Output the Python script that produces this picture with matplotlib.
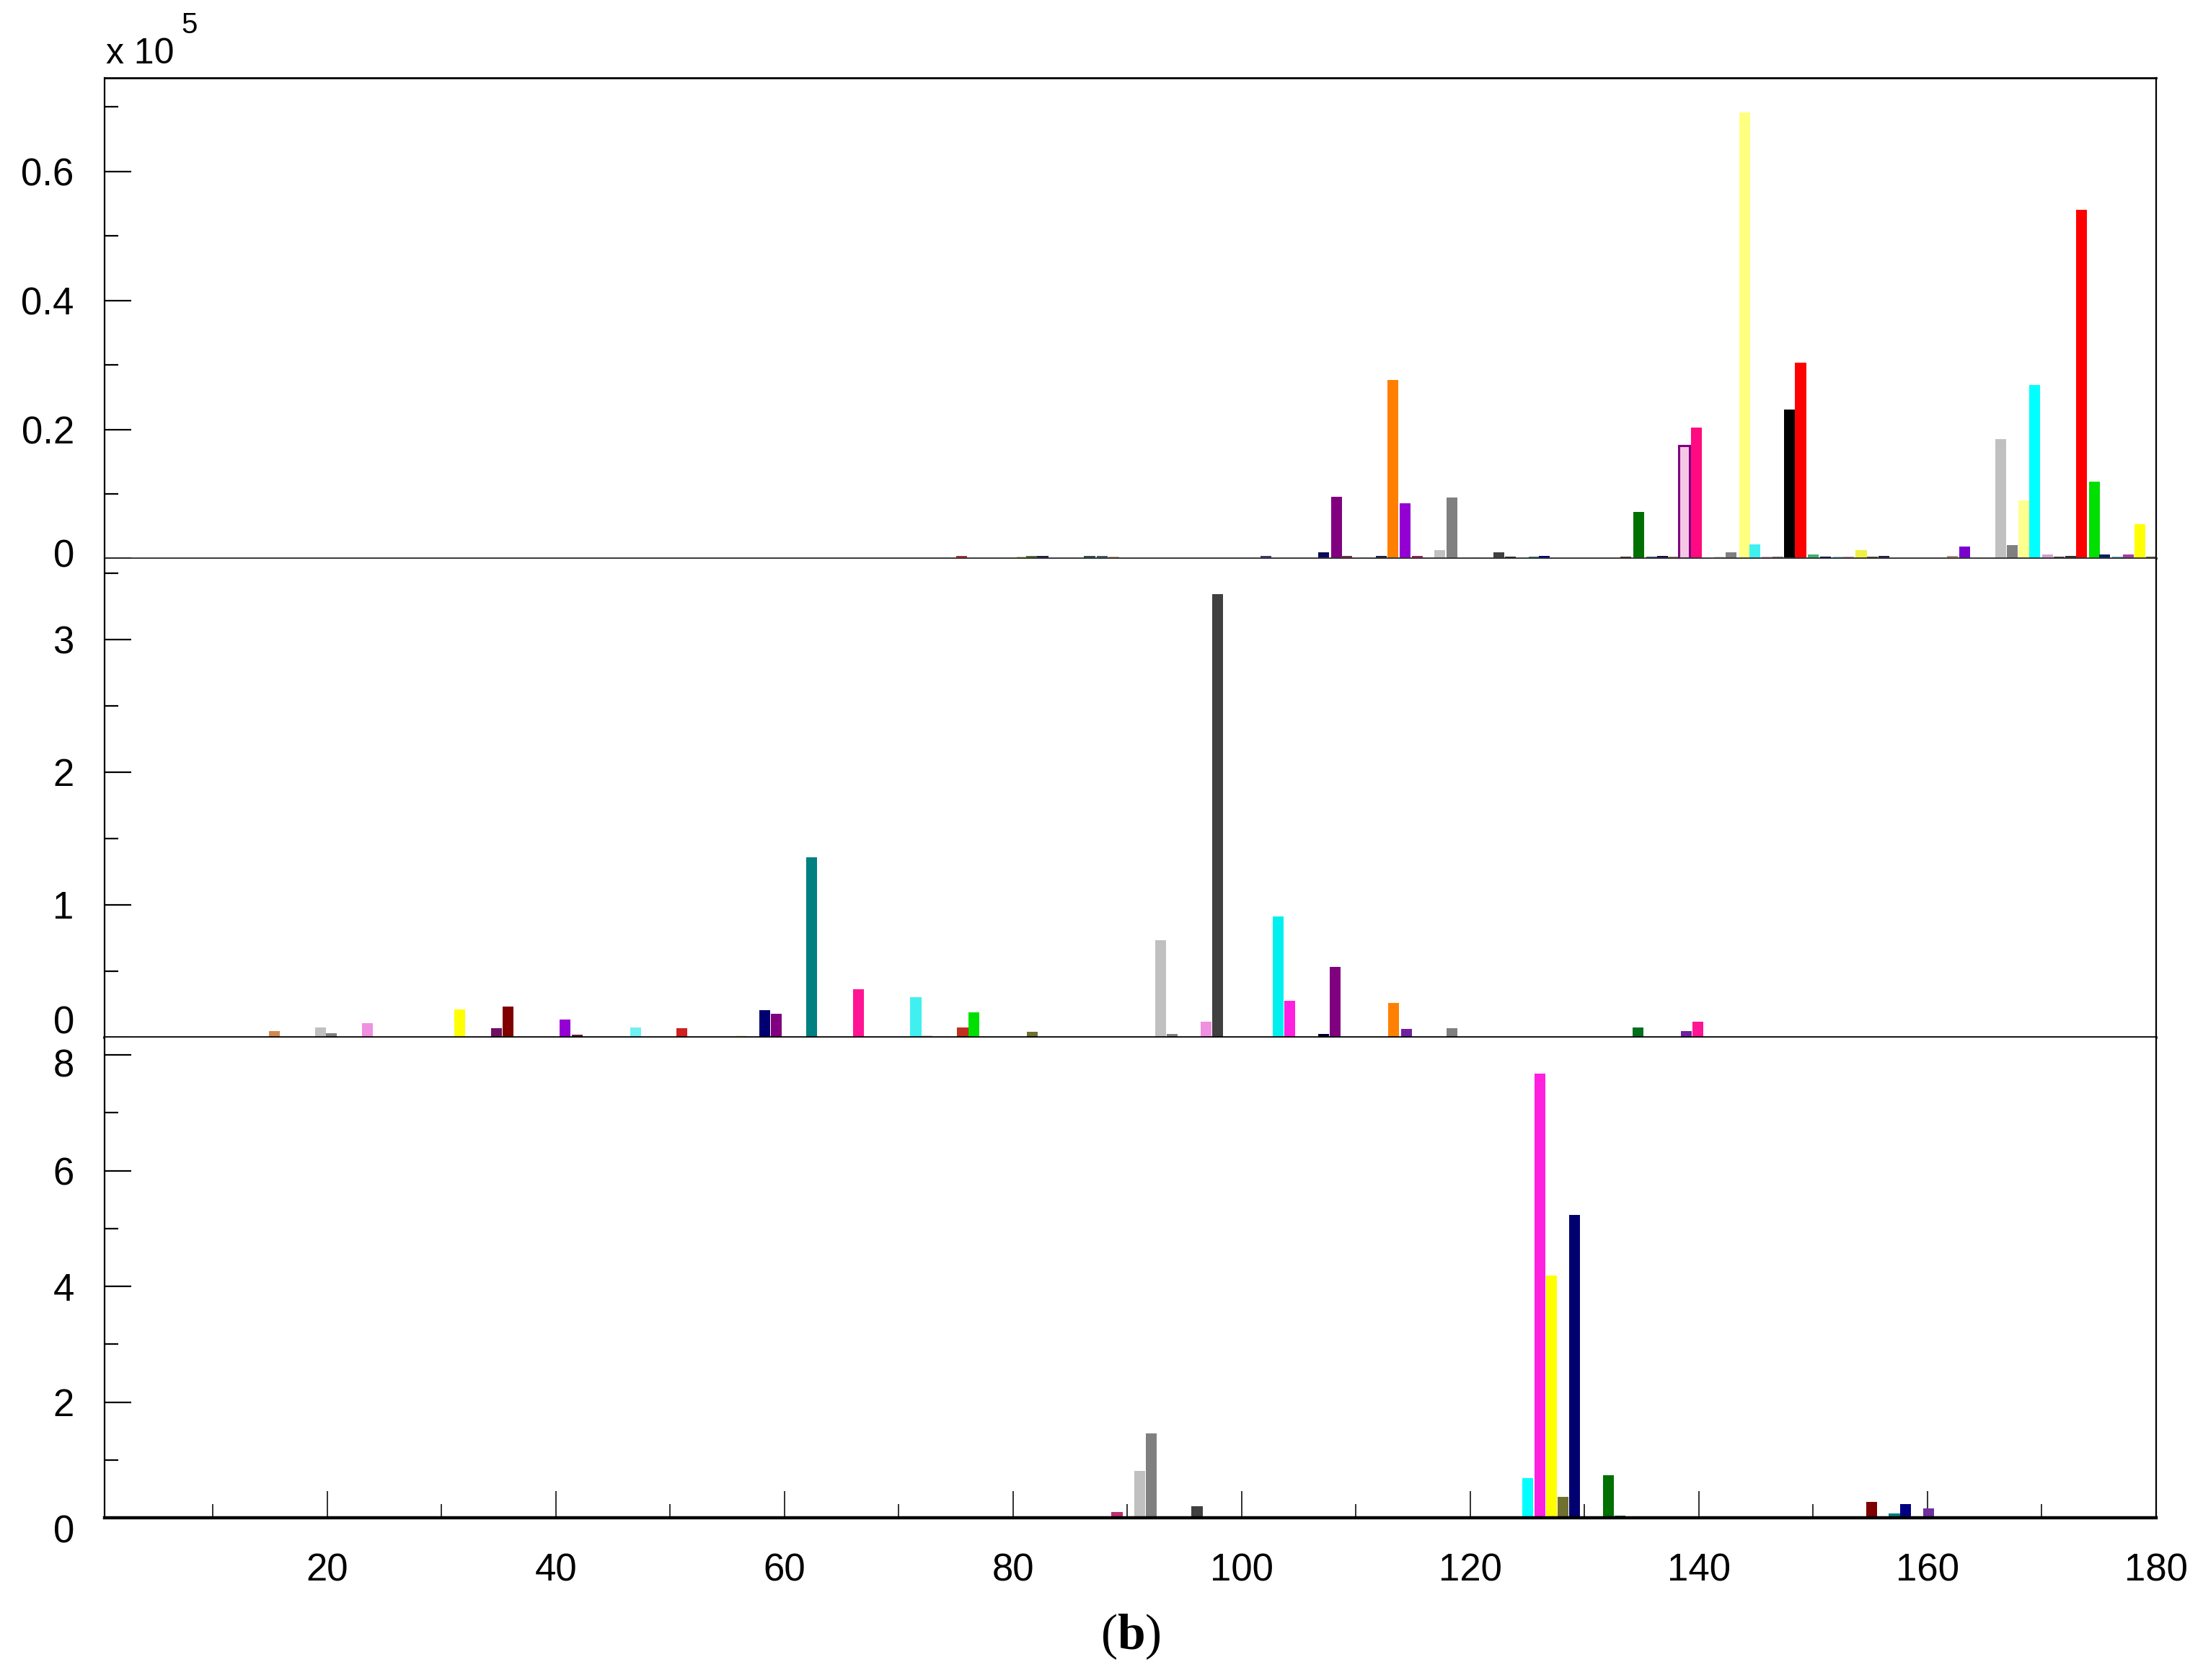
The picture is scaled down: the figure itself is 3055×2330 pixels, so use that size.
import matplotlib
matplotlib.use("Agg")
import matplotlib.pyplot as plt
import matplotlib.transforms as mtransforms

plt.rcParams['font.family'] = ['Liberation Sans', 'DejaVu Sans']
plt.rcParams['mathtext.fontset'] = 'custom'
plt.rcParams['mathtext.rm'] = 'Liberation Serif'
plt.rcParams['mathtext.bf'] = 'Liberation Serif:bold'

# ---------------- data ----------------
# top panel (values in units of 1e5)
top_x = [75.5, 80.8, 81.6, 82.6, 86.7, 87.8, 88.8, 102.1, 107.2, 108.3, 109.2,
         112.2, 113.2, 114.3, 115.4, 117.3, 118.4, 120.4, 122.5, 123.5, 125.6,
         126.5, 133.6, 134.75, 135.9, 136.8, 137.75, 138.7, 139.8, 141.8, 142.8,
         144.0, 144.9, 146.0, 146.9, 147.9, 148.9, 150.0, 151.1, 152.2, 153.1,
         154.2, 155.2, 156.2, 162.2, 163.25, 166.4, 167.4, 168.4, 169.4, 170.5,
         171.5, 172.5, 173.5, 174.6, 175.5, 176.6, 177.6, 178.6, 179.6]
top_h = [0.0035, 0.003, 0.0035, 0.0035, 0.0035, 0.0035, 0.003, 0.0035, 0.0093, 0.095, 0.0035,
         0.0035, 0.277, 0.085, 0.0035, 0.013, 0.094, 0.002, 0.0093, 0.003, 0.003,
         0.0035, 0.003, 0.072, 0.003, 0.0035, 0.003, 0.175, 0.2025, 0.003, 0.0093,
         0.691, 0.0216, 0.003, 0.003, 0.231, 0.303, 0.0067, 0.003, 0.003, 0.003,
         0.0123, 0.003, 0.0035, 0.0035, 0.018, 0.185, 0.021, 0.09, 0.269, 0.006,
         0.003, 0.0035, 0.540, 0.119, 0.0056, 0.003, 0.006, 0.053, 0.003]
top_c = ['#B03030', '#C8C870', '#556B2F', '#1F1F4F', '#2F4F4F', '#4A5A6A', '#C8A078', '#3A3A80', '#0A0A5A', '#800080', '#7A3040',
         '#202040', '#FF8000', '#9400D3', '#A02060', '#C0C0C0', '#808080', '#A0E0E0', '#404040', '#202020', '#2E8B57',
         '#000080', '#5A2A1A', '#007000', '#2F5F6F', '#101050', '#A08060', '#F4C8E4', '#FF0A80', '#D0D0D0', '#808080',
         '#FFFF80', '#40F0F0', '#E0A0C0', '#707070', '#000000', '#FF0000', '#3CB371', '#000060', '#80D0E0', '#C090A0',
         '#F0F040', '#505030', '#202050', '#C09070', '#7B00D0', '#C0C0C0', '#808080', '#FFFF90', '#00FFFF', '#D0A0D0',
         '#404040', '#303030', '#FF0000', '#00E000', '#002060', '#60B0D0', '#A040A0', '#FFFF00', '#606020']
top_outlined = [138.7]

# middle panel
mid_x = [15.4, 19.4, 20.4, 23.5, 31.6, 34.8, 35.8, 40.8, 41.9, 47.0, 51.0, 56.2,
         58.3, 59.3, 62.4, 66.5, 71.5, 72.5, 75.6, 76.6, 81.7, 92.9, 93.9, 96.9,
         97.9, 103.2, 104.2, 107.2, 108.2, 113.3, 114.4, 118.4, 134.7, 138.9, 139.9]
mid_h = [0.051, 0.078, 0.034, 0.109, 0.214, 0.072, 0.235, 0.136, 0.02, 0.074, 0.069, 0.015,
         0.204, 0.177, 1.356, 0.364, 0.306, 0.015, 0.074, 0.188, 0.043, 0.735, 0.025, 0.118,
         3.34, 0.913, 0.277, 0.029, 0.53, 0.262, 0.064, 0.071, 0.076, 0.049, 0.12]
mid_c = ['#D08A50', '#C0C0C0', '#808080', '#F090E0', '#FFFF00', '#701060', '#800000', '#9400D3', '#602040', '#70F0F0', '#D02020', '#F0F0C0',
         '#000070', '#800080', '#008080', '#FF1493', '#40F0F0', '#D0D0D0', '#C03020', '#00E000', '#707030', '#C0C0C0', '#808080', '#F090E0',
         '#404040', '#00F0F0', '#FF20E0', '#000030', '#800080', '#FF8000', '#7020A0', '#808080', '#007020', '#7020A0', '#FF1493']

# bottom panel
bot_x = [89.1, 91.1, 92.1, 96.1, 125.0, 126.1, 127.1, 128.1, 129.1, 132.1, 133.1,
         155.1, 157.1, 158.1, 160.1]
bot_h = [0.104, 0.806, 1.463, 0.195, 0.686, 7.68, 4.19, 0.36, 5.23, 0.736, 0.04,
         0.28, 0.079, 0.237, 0.166]
bot_c = ['#C03070', '#C0C0C0', '#808080', '#404040', '#00FFFF', '#FF20E0', '#FFFF00', '#707030', '#000070', '#007000', '#206060',
         '#800000', '#008080', '#000080', '#7030A0']

top_yticks = [0, 0.2, 0.4, 0.6]
top_ylabels = ['0', '0.2', '0.4', '0.6']
mid_yticks = [0, 1, 2, 3]
mid_ylabels = ['0', '1', '2', '3']
bot_yticks = [0, 2, 4, 6, 8]
bot_ylabels = ['0', '2', '4', '6', '8']
x_ticks = [20, 40, 60, 80, 100, 120, 140, 160, 180]
x_labels = ['20', '40', '60', '80', '100', '120', '140', '160', '180']

# ---------------- figure ----------------
W, H = 3055, 2330
fig = plt.figure(figsize=(W / 100, H / 100), dpi=100)

left_px, right_px = 144.5, 2990
bounds = [(108, 774.5), (774.5, 1439), (1439, 2105)]


def mkax(top, bot):
    return fig.add_axes([left_px / W, 1 - bot / H, (right_px - left_px) / W, (bot - top) / H])


ax1 = mkax(*bounds[0])
ax2 = mkax(*bounds[1])
ax3 = mkax(*bounds[2])

BW = 0.95
for xx, hh, cc in zip(top_x, top_h, top_c):
    if xx in top_outlined:
        ax1.bar(xx, hh, width=BW, color=cc, edgecolor='#800080', linewidth=2.2, zorder=2)
    else:
        ax1.bar(xx, hh, width=BW, color=cc, linewidth=0, zorder=2)
ax2.bar(mid_x, mid_h, width=BW, color=mid_c, linewidth=0, zorder=2)
ax3.bar(bot_x, bot_h, width=BW, color=bot_c, linewidth=0, zorder=2)

ax1.set_ylim(0, 0.7447)
ax2.set_ylim(0, 3.61)
ax3.set_ylim(0, 8.30)

for ax in (ax1, ax2, ax3):
    ax.set_xlim(0.5, 180)
    ax.tick_params(axis='y', which='both', direction='in', left=True, right=False,
                   labelsize=38, pad=30, width=1.6, color='black')
    ax.tick_params(axis='y', which='major', length=26.5)
    ax.tick_params(axis='y', which='minor', length=13.5)
    ax.spines['left'].set_linewidth(1.6)
    ax.spines['right'].set_linewidth(1.6)
    ax.spines['bottom'].set_zorder(3)

ax1.set_yticks(top_yticks, top_ylabels)
ax1.set_yticks([0.1, 0.3, 0.5, 0.7], minor=True)
ax2.set_yticks(mid_yticks, mid_ylabels)
ax2.set_yticks([0.5, 1.5, 2.5, 3.5], minor=True)
ax3.set_yticks(bot_yticks, bot_ylabels)
ax3.set_yticks([1, 3, 5, 7], minor=True)

for ax in (ax1, ax2):
    ax.tick_params(axis='x', which='both', bottom=False, top=False, labelbottom=False)

ax1.spines['top'].set_linewidth(2.0)
ax1.spines['bottom'].set_linewidth(2.0)
ax1.spines['bottom'].set_color('#333333')
ax2.spines['top'].set_visible(False)
ax2.spines['bottom'].set_linewidth(2.6)
ax3.spines['top'].set_visible(False)
ax3.spines['bottom'].set_linewidth(3.2)

ax3.set_xticks(x_ticks, x_labels)
ax3.set_xticks([10, 30, 50, 70, 90, 110, 130, 150, 170], minor=True)
ax3.tick_params(axis='x', which='both', direction='in', bottom=True, top=False,
                labelsize=38, pad=35, width=1.3, color='#222222')
ax3.tick_params(axis='x', which='major', length=26.5)
ax3.tick_params(axis='x', which='minor', length=13.5)


def shift_label(ax, idx, dy_px):
    t = ax.yaxis.get_major_ticks()[idx]
    t.label1.set_transform(t.label1.get_transform() +
                           mtransforms.ScaledTranslation(0, dy_px / 100.0, fig.dpi_scale_trans))


shift_label(ax1, 0, 7)
shift_label(ax2, 0, 25)
shift_label(ax3, 0, -15)
shift_label(ax3, 4, -11)

# exponent label
fig.text(147 / W, 1 - 88 / H, 'x 10', fontsize=36, ha='left', va='baseline')
fig.text(251 / W, 1 - 46 / H, '5', fontsize=29, ha='left', va='baseline')

# panel label
fig.text(1568 / W, 1 - 2270 / H, r'$\mathrm{(}\mathbf{b}\mathrm{)}$', fontsize=50,
         ha='center', va='center')

fig.savefig('out.png', dpi=100)
